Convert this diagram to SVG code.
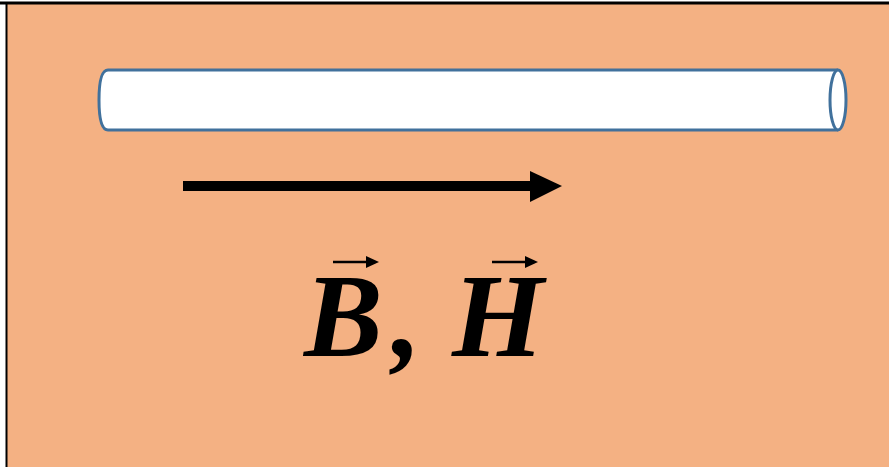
<svg xmlns="http://www.w3.org/2000/svg" width="889" height="467" viewBox="0 0 889 467">
<style>
.lbl{font-family:"Liberation Serif","Times New Roman",serif;font-weight:bold;font-style:italic;font-size:118px;fill:#000}
.vec{stroke:#000;stroke-width:2.5;fill:none}
</style>
<rect x="0" y="0" width="889" height="467" fill="#fff"/>
<rect x="7" y="3.5" width="890" height="470" fill="#F4B183"/>
<line x1="0" y1="3" x2="889" y2="3" stroke="#000" stroke-width="3"/>
<line x1="6.5" y1="2" x2="6.5" y2="467" stroke="#000" stroke-width="2"/>
<g id="tube">
<path d="M838,70 L108,70 Q99,70 99,100 Q99,130 108,130 L838,130" fill="#fff" stroke="#41719C" stroke-width="3"/>
<ellipse cx="838" cy="100" rx="8" ry="30" fill="#fff" stroke="#41719C" stroke-width="3"/>
</g>
<g id="arrow">
<rect x="183" y="181" width="349" height="10" fill="#000"/>
<polygon points="530,171 562,186 530,202" fill="#000"/>
</g>
<g id="label">
<text class="lbl" y="356"><tspan x="304">B</tspan><tspan x="392">,</tspan><tspan x="452">H</tspan></text>
<line class="vec" x1="333" y1="262" x2="372" y2="262"/>
<polygon points="366,256 379,262 366,268" fill="#000"/>
<line class="vec" x1="492" y1="262" x2="531" y2="262"/>
<polygon points="525,256 538,262 525,268" fill="#000"/>
</g>
</svg>
